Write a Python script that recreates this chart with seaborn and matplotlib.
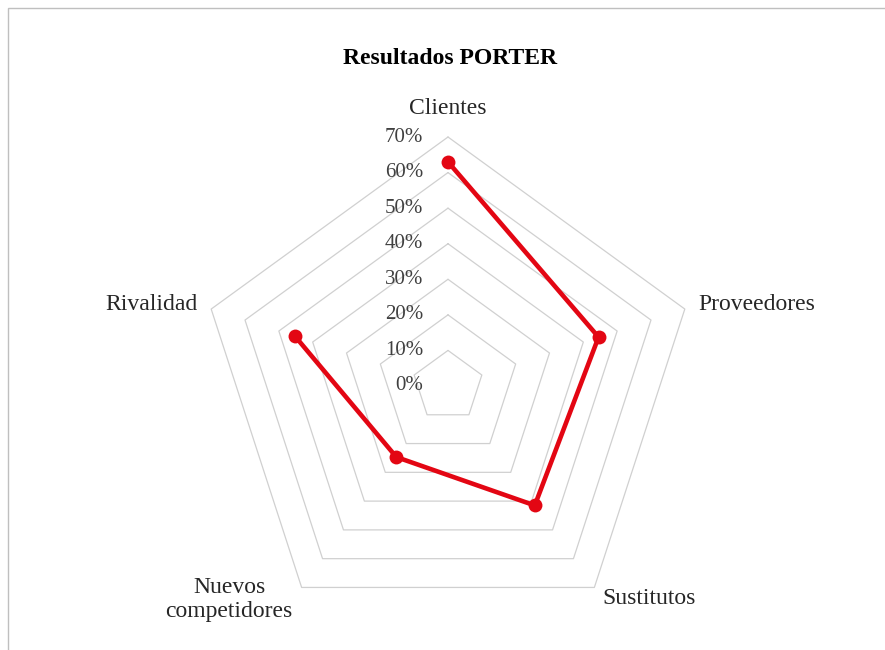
import numpy as np
import pandas as pd
import matplotlib
matplotlib.use("Agg")
import matplotlib.pyplot as plt
import seaborn as sns
from matplotlib.transforms import offset_copy
from matplotlib.patches import Rectangle

# ---- data ----
categories = ["Clientes", "Proveedores", "Sustitutos", "Nuevos\ncompetidores", "Rivalidad"]
values = [0.63, 0.445, 0.415, 0.247, 0.452]
levels = [0.0, 0.1, 0.2, 0.3, 0.4, 0.5, 0.6, 0.7]
tick_labels = ["0%", "10%", "20%", "30%", "40%", "50%", "60%", "70%"]
title = "Resultados PORTER"

sns.set_theme(style="white")
plt.rcParams["font.family"] = ["Liberation Serif", "DejaVu Serif"]

RED = "#E30613"
GRID = "#D0D0D0"

fig = plt.figure(figsize=(8.85, 6.5), dpi=100)
ax = fig.add_axes([199 / 885, 15 / 650, 498 / 885, 498 / 650], projection="polar")
ax.set_theta_zero_location("N")
ax.set_theta_direction(-1)
ax.set_ylim(0, 0.7)
ax.grid(False)
ax.spines["polar"].set_visible(False)
ax.set_xticks([])
ax.set_yticks([])
ax.patch.set_alpha(0)

n = len(categories)
theta = list(np.linspace(0, 2 * np.pi, n, endpoint=False))
closed_theta = theta + [theta[0]]

# pentagon grid rings
for lvl in levels[1:]:
    ax.plot(closed_theta, [lvl] * (n + 1), color=GRID, lw=0.9, zorder=1)

df = pd.DataFrame({"theta": closed_theta, "value": values + [values[0]]})
sns.lineplot(data=df, x="theta", y="value", sort=False, color=RED, lw=3.3,
             marker="o", markersize=10, markeredgewidth=0, ax=ax, zorder=3)
ax.set_xlabel("")
ax.set_ylabel("")
for ln in ax.lines:
    ln.set_clip_on(False)

# radial tick labels
tr = offset_copy(ax.transData, fig=fig, x=-25, y=0, units="dots")
for lvl, lab in zip(levels, tick_labels):
    ax.text(0, lvl, lab, transform=tr, ha="right", va="center",
            fontsize=15, color="#404040")

# category labels
cat_style = dict(fontsize=17, color="#262626")
ax.text(theta[0], 0.779, categories[0], ha="center", va="center", **cat_style)
ax.text(theta[1], 0.74, categories[1], ha="left", va="center", **cat_style)
ax.text(theta[2], 0.74, categories[2], ha="left", va="center", **cat_style)
ax.text(theta[3], 0.742, categories[3], ha="right", va="center",
        multialignment="center", linespacing=1.22, **cat_style)
ax.text(theta[4], 0.74, categories[4], ha="right", va="center", **cat_style)

fig.text(450 / 885, 1 - 59 / 650, title, fontweight="bold", fontsize=17,
         ha="center", va="center", color="black")

fig.add_artist(Rectangle((8 / 885, -0.1), 1.2, 1 - 8 / 650 + 0.1,
                         transform=fig.transFigure, fill=False,
                         edgecolor="#BFBFBF", lw=1))

fig.savefig("out.png", dpi=100)
